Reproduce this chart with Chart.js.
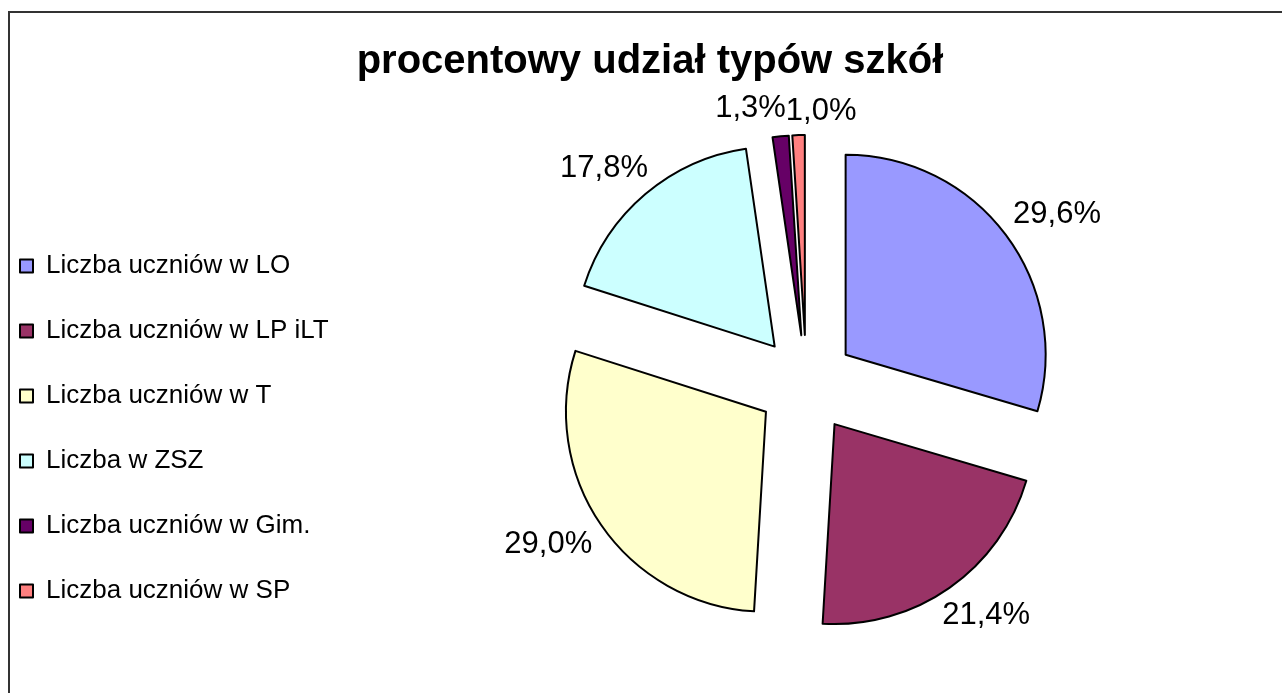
<!DOCTYPE html>
<html lang="pl">
<head>
<meta charset="utf-8">
<title>procentowy udział typów szkół</title>
<script src="https://cdn.jsdelivr.net/npm/chart.js@4/dist/chart.umd.min.js"></script>
<style>
  html, body { margin: 0; padding: 0; background: #fff; overflow: hidden; width: 1282px; height: 693px; }
  #frame { position: absolute; left: 8px; top: 11px; width: 1400px; height: 800px;
           border-top: 2px solid #333; border-left: 2px solid #333; }
  #schools { position: absolute; left: -19px; top: 12px; }
</style>
</head>
<body>
<div id="frame"></div>
<canvas id="schools" width="1338" height="681"></canvas>
<script>
// data (shares in %)
const chartTitle = 'procentowy udział typów szkół';
const schoolTypes = [
  'Liczba uczniów w LO',
  'Liczba uczniów w LP iLT',
  'Liczba uczniów w T',
  'Liczba w ZSZ',
  'Liczba uczniów w Gim.',
  'Liczba uczniów w SP'
];
const shares = [29.6, 21.4, 29.0, 17.8, 1.3, 1.0];
const sliceColors = ['#9999FF', '#993366', '#FFFFCC', '#CCFFFF', '#660066', '#FF8080'];

const explodeBy = 49;    // distance each slice is pulled out of the pie
const labelGap = 20;
const spacerWidth = 45;  // empty room right of the pie

Chart.defaults.font.family = '"Liberation Sans", Arial, sans-serif';
Chart.defaults.color = '#000';

// empty box on the right side so the pie sits where it does in the original
const rightSpacer = {
  id: 'rightSpacer',
  beforeInit(chart) {
    Chart.layouts.addBox(chart, {
      position: 'right',
      weight: 0,
      fullSize: false,
      options: { display: false },
      width: 0,
      height: 0,
      isHorizontal() { return false; },
      update(maxWidth, maxHeight) {
        this.width = spacerWidth;
        this.height = maxHeight;
      },
      draw() {}
    });
  }
};

// pull every slice outward along its middle angle (no radius change)
const explodePlugin = {
  id: 'explode',
  afterDatasetsUpdate(chart) {
    chart.getDatasetMeta(0).data.forEach(arc => {
      const mid = (arc.startAngle + arc.endAngle) / 2;
      arc.x += Math.cos(mid) * explodeBy;
      arc.y += Math.sin(mid) * explodeBy;
    });
  }
};

// percentage labels just outside each slice
const pctLabels = {
  id: 'pctLabels',
  afterDatasetsDraw(chart) {
    const ctx = chart.ctx;
    const meta = chart.getDatasetMeta(0);
    const size = 31;
    ctx.save();
    ctx.font = size + 'px "Liberation Sans", Arial, sans-serif';
    ctx.fillStyle = '#000';
    ctx.textAlign = 'center';
    ctx.textBaseline = 'middle';
    const boxes = meta.data.map((arc, i) => {
      const text = shares[i].toFixed(1).replace('.', ',') + '%';
      const w = ctx.measureText(text).width;
      const h = size * 0.9;
      const mid = (arc.startAngle + arc.endAngle) / 2;
      const dx = Math.cos(mid), dy = Math.sin(mid);
      const r = arc.outerRadius + labelGap;
      return {
        text, w,
        x: arc.x + dx * r + dx * w / 2,
        y: arc.y + dy * r + dy * h / 2
      };
    });
    // push apart labels that overlap (tiny neighbouring slices)
    for (let i = 0; i < boxes.length - 1; i++) {
      const a = boxes[i], b = boxes[i + 1];
      const overlap = (a.w + b.w) / 2 - Math.abs(b.x - a.x);
      if (overlap > 0 && Math.abs(b.y - a.y) < size) {
        const dir = b.x >= a.x ? 1 : -1;
        a.x -= dir * overlap / 2;
        b.x += dir * overlap / 2;
        a.y += 6;
        b.y += 10;
      }
    }
    boxes.forEach(b => ctx.fillText(b.text, b.x, b.y));
    ctx.restore();
  }
};

const schoolsChart = new Chart(document.getElementById('schools'), {
  type: 'pie',
  data: {
    labels: schoolTypes,
    datasets: [{
      data: shares,
      backgroundColor: sliceColors,
      borderColor: '#000',
      borderWidth: 2,
      borderJoinStyle: 'round',
      radius: 200,
      clip: false
    }]
  },
  options: {
    responsive: false,
    devicePixelRatio: 1,
    animation: false,
    events: [],
    layout: { padding: { left: 0, right: 0, top: 0, bottom: 50 } },
    plugins: {
      title: {
        display: true,
        text: chartTitle,
        color: '#000',
        font: { size: 40, weight: 'bold' },
        padding: { top: 26, bottom: 39 }
      },
      legend: {
        position: 'left',
        align: 'end',
        labels: {
          color: '#000',
          font: { size: 26 },
          boxWidth: 13,
          boxHeight: 13,
          padding: 39
        }
      },
      tooltip: { enabled: false }
    }
  },
  plugins: [rightSpacer, explodePlugin, pctLabels]
});
</script>
</body>
</html>
